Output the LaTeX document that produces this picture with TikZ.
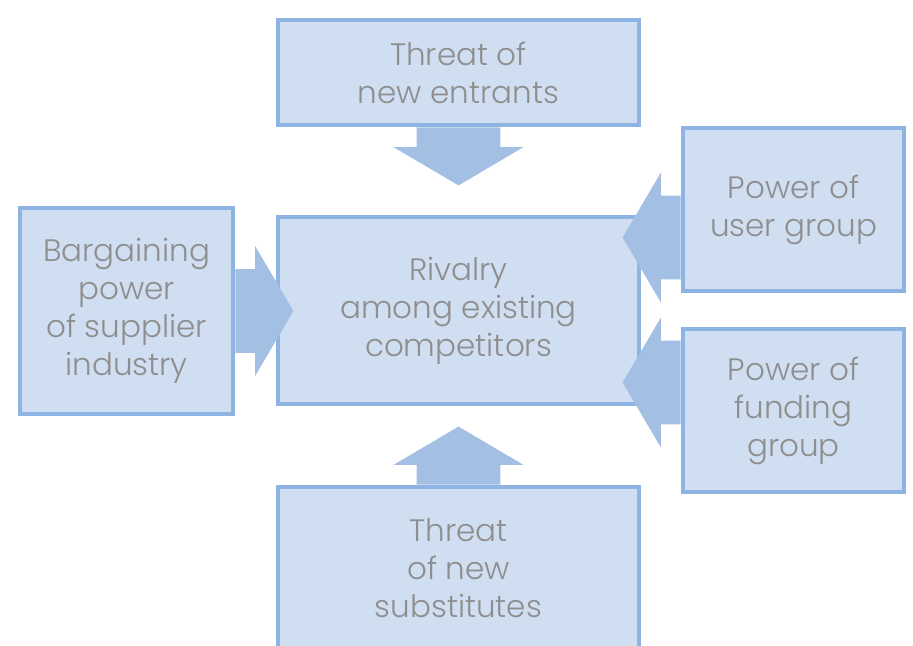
\documentclass[tikz,border=0pt]{standalone}
\usepackage{fontspec}
\setmainfont{Poppins}[UprightFont=* Light]
\usepackage{tikz}
\usetikzlibrary{shapes.arrows}
\usepackage{xcolor}
\definecolor{boxFill}{HTML}{CFDEF0}
\definecolor{boxLine}{HTML}{8DB4E2}
\definecolor{arrowFill}{HTML}{A3C0E4}
\definecolor{labelGray}{HTML}{8E8E8E}

\begin{document}
\begin{tikzpicture}[
  x=0.5pt, y=-0.5pt,
  box/.style={draw=boxLine, fill=boxFill, line width=2pt, align=center, minimum width=180.5pt, inner sep=0pt,
    text=labelGray, font=\fontsize{15.5}{19}\selectfont},
  sidebox/.style={box, minimum width=110.5pt, minimum height=81.5pt},
  blockarrow/.style={single arrow, fill=arrowFill, inner xsep=0pt, inner ysep=20.75pt, minimum width=64.5pt,
    minimum height=29pt, single arrow head extend=11.5pt, single arrow tip angle=119, anchor=tail}
]
\useasboundingbox (0,0) rectangle (913,646);

\node[box, minimum height=52.5pt] (entrants) at (458.5,72.5) {Threat of\\new entrants};
\node[box, minimum height=93.5pt] (rivalry) at (458.5,310.5) {Rivalry\\among existing\\competitors};
\node[box, minimum width=106.5pt, minimum height=103pt] (supplier) at (126.5,311) {Bargaining\\power\\of supplier\\industry};
\node[sidebox] (userGroup) at (793.5,209.5) {Power of\\user group};
\node[sidebox] (fundingGroup) at (793.5,410.5) {Power of\\funding\\group};
\node[box, minimum height=81.5pt] (substitutes) at (458.5,568.5) {Threat\\of new\\substitutes};

% forces pushing on the centre box
\node[blockarrow, rotate=-90] (entrantsArrow) at (entrants.south) {};
\node[blockarrow] (supplierArrow) at (supplier.east) {};
\node[blockarrow, rotate=180] (userArrow) at ([yshift=-14pt]userGroup.west) {};
\node[blockarrow, rotate=180] (fundingArrow) at ([yshift=14pt]fundingGroup.west) {};
\node[blockarrow, rotate=90] (substitutesArrow) at (substitutes.north) {};
\end{tikzpicture}
\end{document}
